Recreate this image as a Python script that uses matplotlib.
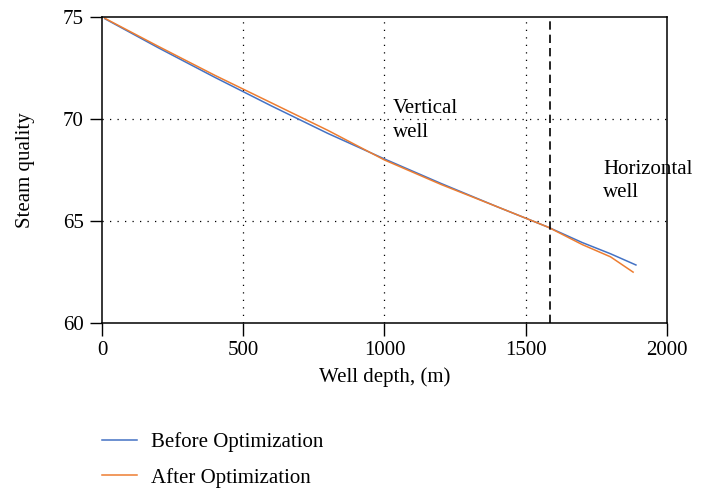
import numpy as np
import matplotlib.pyplot as plt

plt.rcParams['font.family'] = ['Liberation Serif', 'DejaVu Serif']

# --- dane ---
depth_before = [10, 200, 400, 600, 800, 1000, 1200, 1400, 1580, 1700, 1800, 1890]
quality_before = [74.93, 73.5, 72.05, 70.65, 69.3, 68.05, 66.85, 65.7, 64.7, 63.95, 63.4, 62.85]

depth_after = [10, 200, 400, 600, 800, 1000, 1200, 1400, 1580, 1700, 1800, 1880]
quality_after = [74.95, 73.57, 72.15, 70.8, 69.45, 68.0, 66.8, 65.7, 64.7, 63.85, 63.25, 62.5]

boundary_depth = 1585  # przejście pionowy -> poziomy odcinek
x_ticks = [0, 500, 1000, 1500, 2000]
y_ticks = [60, 65, 70, 75]

FS = 15

fig = plt.figure(figsize=(7.01, 4.94), dpi=100)
ax = fig.add_axes([0.1455, 0.346, 0.806, 0.619])

ax.plot(depth_before, quality_before, color='#4472C4', lw=1.1, label='Before Optimization')
ax.plot(depth_after, quality_after, color='#ED7D31', lw=1.1, label='After Optimization')

# siatka kropkowana tylko wewnątrz
for xv in x_ticks[1:-1]:
    ax.axvline(xv, color='black', ls=(0, (1, 5)), lw=0.9, zorder=0)
for yv in y_ticks[1:-1]:
    ax.axhline(yv, color='black', ls=(0, (1, 5)), lw=0.9, zorder=0)

ax.axvline(boundary_depth, color='black', ls=(0, (5, 3)), lw=1.2)

ax.text(1030, 71.0, 'Vertical\nwell', fontsize=FS, va='top', ha='left', linespacing=1.35)
ax.text(1775, 68.0, 'Horizontal\nwell', fontsize=FS, va='top', ha='left', linespacing=1.3)

ax.set_xlim(0, 2000)
ax.set_ylim(60, 75)
ax.set_xticks(x_ticks)
ax.set_yticks(y_ticks)
ax.tick_params(direction='out', length=9, width=1, labelsize=FS, pad=4)
for sp in ax.spines.values():
    sp.set_linewidth(1.1)

ax.set_xlabel('Well depth, (m)', fontsize=FS, labelpad=5)
ax.set_ylabel('Steam quality', fontsize=FS, labelpad=20)

fig.legend(loc='upper left', bbox_to_anchor=(0.1455, 0.125), frameon=False,
           fontsize=FS, handlelength=1.7, labelspacing=0.75, handletextpad=0.65,
           borderaxespad=0, borderpad=0)

plt.savefig('out.png', dpi=100)
